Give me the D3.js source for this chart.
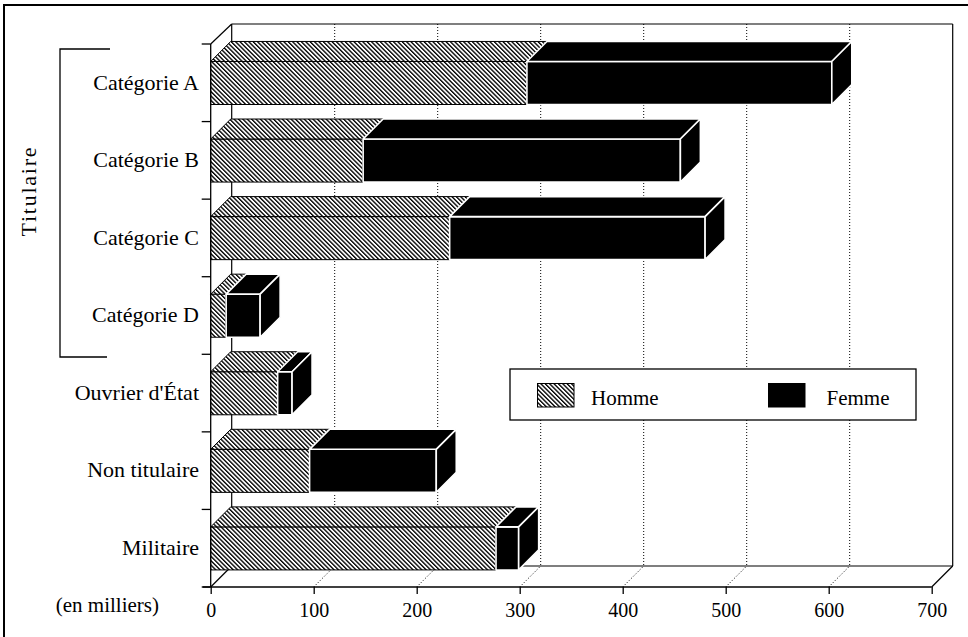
<!DOCTYPE html>
<html>
<head>
<meta charset="utf-8">
<script src="https://cdn.jsdelivr.net/npm/d3@7"></script>
<style>
  body { margin:0; background:#fff; }
  text { font-family:"Liberation Serif","Times New Roman",serif; fill:#000; }
</style>
</head>
<body>
<svg id="chart" width="968" height="637"></svg>
<script>
var categories = ["Catégorie A","Catégorie B","Catégorie C","Catégorie D","Ouvrier d'État","Non titulaire","Militaire"];
var homme = [307,148,232,15,65,96,277];
var femme = [296,308,248,33,14,123,22];
var seriesNames = ["Homme","Femme"];
var xTicks = [0,100,200,300,400,500,600,700];

var svg = d3.select("svg#chart");

// depth of the 3D plane and of the bars
var depth = 21;
var barDepth = 20;

var xScale = d3.scaleLinear()
               .domain([0,700])
               .range([210.7,931.7]);
var yScale = d3.scaleBand()
               .domain(categories)
               .range([44,587]);
var bw = yScale.bandwidth();
var yBottom = yScale.range()[1];
var yTop = yScale.range()[0];

// hatch pattern
var defs = svg.append("defs");
var pat = defs.append("pattern")
              .attr("id","hatch")
              .attr("patternUnits","userSpaceOnUse")
              .attr("width",3.1)
              .attr("height",3.1)
              .attr("patternTransform","rotate(-45)");
pat.append("rect").attr("width",3.1).attr("height",3.1).attr("fill","#fff");
pat.append("rect").attr("width",1.35).attr("height",3.1).attr("fill","#000");

// outer frame
svg.append("rect")
   .attr("x",4).attr("y",5)
   .attr("width",1000).attr("height",700)
   .attr("fill","none").attr("stroke","#000").attr("stroke-width",2);

var grid = svg.append("g").classed("grid",true);
var x0 = xScale(0), x700 = xScale(700);

// back wall gridlines (dotted)
grid.selectAll("line.back")
    .data(xTicks.slice(1,-1))
    .enter()
    .append("line")
    .attr("x1",function(d){ return xScale(d)+depth; })
    .attr("x2",function(d){ return xScale(d)+depth; })
    .attr("y1",yTop-20)
    .attr("y2",yBottom-depth)
    .attr("stroke","#000").attr("stroke-width",1)
    .attr("stroke-dasharray","1,2");
// floor diagonals (dotted)
grid.selectAll("line.floor")
    .data(xTicks.slice(1,-1))
    .enter()
    .append("line")
    .attr("x1",function(d){ return xScale(d); })
    .attr("x2",function(d){ return xScale(d)+depth; })
    .attr("y1",yBottom)
    .attr("y2",yBottom-depth)
    .attr("stroke","#000").attr("stroke-width",1)
    .attr("stroke-dasharray","1,2");

// solid frame of the 3D box
var solid = [
  [x0+depth, yTop-20, x700+depth, yTop-20],
  [x700+depth, yTop-20, x700+depth, yBottom-depth],
  [x0+depth, yBottom-depth, x700+depth, yBottom-depth],
  [x700, yBottom, x700+depth, yBottom-depth],
  [x0, yBottom, x0+depth, yBottom-depth],
  [x0+depth, yTop-20, x0+depth, yBottom-depth],
  [x0, yTop, x0+depth, yTop-20]
];
grid.selectAll("line.solid")
    .data(solid)
    .enter()
    .append("line")
    .attr("x1",function(d){ return d[0]; })
    .attr("y1",function(d){ return d[1]; })
    .attr("x2",function(d){ return d[2]; })
    .attr("y2",function(d){ return d[3]; })
    .attr("stroke","#000").attr("stroke-width",1.2);

// bars
var rows = categories.map(function(c,i){
  return {name:c, segs:[
    {s:"Homme", a:0, b:homme[i]},
    {s:"Femme", a:homme[i], b:homme[i]+femme[i]}
  ]};
});

function facePaths(d, row){
  var xa = xScale(d.a), xb = xScale(d.b);
  var yt = yScale(row.name)+0.225*bw, yb = yt+0.555*bw;
  var dx = barDepth, dy = barDepth;
  return [
    [[xa,yt],[xb,yt],[xb,yb],[xa,yb]],
    [[xa,yt],[xa+dx,yt-dy],[xb+dx,yt-dy],[xb,yt]],
    [[xb,yt],[xb+dx,yt-dy],[xb+dx,yb-dy],[xb,yb]]
  ];
}

var bars = svg.append("g").classed("bars",true)
              .selectAll("g")
              .data(rows)
              .enter()
              .append("g");

bars.each(function(row){
  var g = d3.select(this);
  row.segs.forEach(function(d){
    var isF = d.s=="Femme";
    g.selectAll(null)
     .data(facePaths(d,row))
     .enter()
     .append("path")
     .attr("d",function(p){ return "M"+p.join("L")+"Z"; })
     .attr("fill",isF ? "#000" : "url(#hatch)")
     .attr("stroke",isF ? "#fff" : "#000")
     .attr("stroke-width",isF ? 1.6 : 1)
     .attr("stroke-linejoin","round");
  });
});

// left axis line and ticks at band boundaries
var bounds = categories.map(function(c){ return yScale(c); }).concat([yBottom]);
svg.append("line")
   .attr("x1",x0).attr("x2",x0)
   .attr("y1",yTop).attr("y2",yBottom)
   .attr("stroke","#000").attr("stroke-width",1.3);
svg.selectAll("line.ltick")
   .data(bounds)
   .enter()
   .append("line")
   .attr("x1",x0-9).attr("x2",x0)
   .attr("y1",function(d){ return d; })
   .attr("y2",function(d){ return d; })
   .attr("stroke","#000").attr("stroke-width",1.3);

svg.selectAll("text.cat")
   .data(categories)
   .enter()
   .append("text")
   .attr("x",199)
   .attr("y",function(d){ return yScale(d)+45.5; })
   .attr("text-anchor","end")
   .style("font-size","22px")
   .text(function(d){ return d; });

// bottom axis
svg.append("line")
   .attr("x1",x0-8).attr("x2",x700)
   .attr("y1",yBottom).attr("y2",yBottom)
   .attr("stroke","#000").attr("stroke-width",1.3);
var xAxis = d3.axisBottom(xScale)
              .tickValues(xTicks)
              .tickSize(7)
              .tickSizeOuter(0)
              .tickPadding(9);
var ax = svg.append("g")
   .classed("xAxis",true)
   .attr("transform","translate(0,"+yBottom+")")
   .attr("font-family",null)
   .call(xAxis);
ax.attr("font-family","Liberation Serif").attr("font-size",20);
ax.select(".domain").remove();
ax.selectAll("line").attr("stroke-width",1.3);
ax.selectAll("text")
  .style("font-family","'Liberation Serif',serif")
  .style("font-size","20px")
  .attr("fill","#000");

svg.append("text")
   .attr("x",159).attr("y",612)
   .attr("text-anchor","end")
   .style("font-size","21px")
   .text("(en milliers)");

// Titulaire bracket
var br = [[110,49],[60,49],[60,357],[107,357]];
svg.append("path")
   .attr("d","M"+br.join("L"))
   .attr("fill","none").attr("stroke","#000").attr("stroke-width",1.3);
svg.append("text")
   .attr("transform","translate(36,192) rotate(-90)")
   .attr("text-anchor","middle")
   .attr("textLength",89)
   .attr("lengthAdjust","spacing")
   .style("font-size","22px")
   .text("Titulaire");

// legend
var legend = svg.append("g").classed("legend",true);
legend.append("rect")
      .attr("x",510).attr("y",369)
      .attr("width",406).attr("height",51)
      .attr("fill","#fff").attr("stroke","#000").attr("stroke-width",1.3);
var legendItems = legend.selectAll("g")
      .data(seriesNames)
      .enter()
      .append("g")
      .attr("transform",function(d,i){ return "translate("+(537.5+231*i)+",0)"; });
legendItems.append("rect")
      .attr("x",0).attr("y",383.5)
      .attr("width",36.5).attr("height",23.5)
      .attr("fill",function(d){ return d=="Femme" ? "#000" : "url(#hatch)"; })
      .attr("stroke","#000").attr("stroke-width",1);
legendItems.append("text")
      .attr("x",function(d){ return d=="Femme" ? 58 : 53.5; })
      .attr("y",405)
      .style("font-size","21px")
      .text(function(d){ return d; });
</script>
</body>
</html>
